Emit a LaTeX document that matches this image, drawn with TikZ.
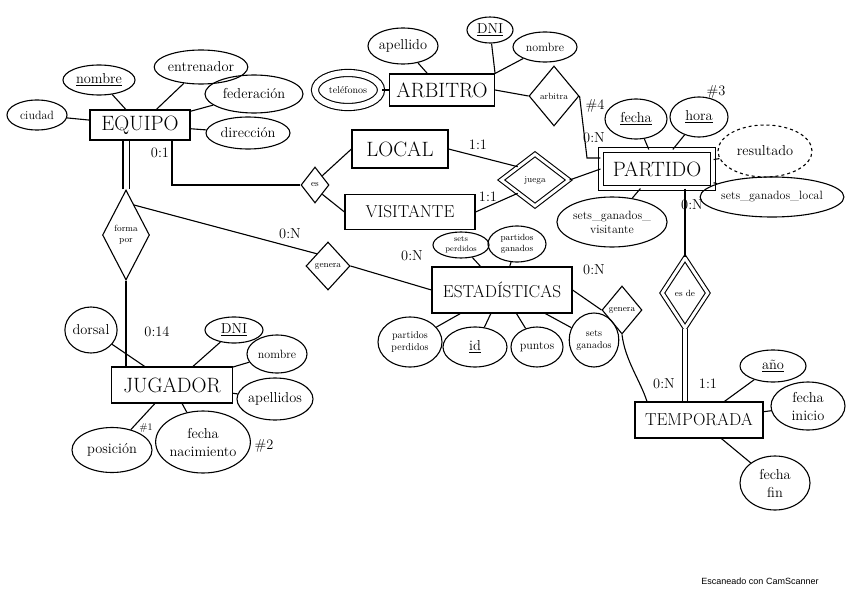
\documentclass[tikz,border=0pt]{standalone}
\usepackage{fontspec}
\newfontfamily\scanfont{Liberation Sans}
\usetikzlibrary{shapes.geometric}
\tikzset{
entity/.style n args = {2}{draw, rectangle, minimum width=#1, minimum height=#2,
              inner sep=1pt, font=\huge},
attr/.style n args = {2}{draw, ellipse, minimum width=#1, minimum height=#2,
              inner sep=0pt, font=\Large, align=center},
rel/.style n args = {2}{draw, diamond, minimum width=#1, minimum height=#2,
              inner sep=0pt, font=\small, align=center},
card/.style = {font=\Large, inner sep=1pt}
}

\begin{document}
\begin{tikzpicture}[x=1pt, y=-1pt, line width=1.1pt]
	\def \dd{4pt} % double line gap
	\useasboundingbox (0,0) rectangle (848,599);

	% Entities
	\node[entity={100pt}{30pt}] (equipo) at (140,125) {EQUIPO};
	\node[entity={105pt}{32pt}] (arbitro) at (442,90) {ARBITRO};
	\node[entity={96pt}{38pt}] (local) at (400,149) {LOCAL};
	\node[entity={130pt}{35pt}, font=\LARGE] (visit) at (410,212) {VISITANTE};
	\node[entity={112pt}{38pt}, double, double distance=\dd] (partido) at (657,169) {PARTIDO};
	\node[entity={140pt}{46pt}, font=\LARGE] (estad) at (502,290) {ESTADÍSTICAS};
	\node[entity={121pt}{36pt}] (jugador) at (172,385) {JUGADOR};
	\node[entity={128pt}{36pt}, font=\LARGE] (temporada) at (699,420) {TEMPORADA};

	% Relationships
	\node[rel={47pt}{90pt}] (forma) at (126,235) {forma\\por};
	\node[rel={28pt}{36pt}] (es) at (315,185) {es};
	\node[rel={44pt}{48pt}] (genL) at (328,266) {genera};
	\node[rel={50pt}{60pt}] (arbitra) at (554,96) {arbitra};
	\node[rel={68pt}{52pt}, double, double distance=3pt] (juega) at (535,180) {juega};
	\node[rel={40pt}{48pt}] (genR) at (622,310) {genera};
	\node[rel={46pt}{70pt}, double, double distance=3pt] (esde) at (685,293) {es de};

	% EQUIPO attributes
	\node[attr={72pt}{30pt}] (eqnom) at (99,80) {\underline{nombre}};
	\node[attr={60pt}{30pt}, font=\large] (eqciu) at (37,115) {ciudad};
	\node[attr={92pt}{34pt}] (eqent) at (201,67) {entrenador};
	\node[attr={98pt}{38pt}] (eqfed) at (254,94) {federación};
	\node[attr={84pt}{32pt}] (eqdir) at (248,133) {dirección};
	\draw (equipo) -- (eqnom);
	\draw (equipo) -- (eqciu);
	\draw (equipo) -- (eqent);
	\draw (equipo) -- (eqfed);
	\draw (equipo) -- (eqdir);

	% ARBITRO attributes
	\node[attr={70pt}{36pt}] (arape) at (403,46) {apellido};
	\node[attr={46pt}{26pt}] (ardni) at (490,30) {\underline{DNI}};
	\node[attr={64pt}{30pt}, font=\large] (arnom) at (545,47) {nombre};
	\node[attr={66pt}{34pt}, double, double distance=6pt, font=\normalsize] (artel) at (348,90) {teléfonos};
	\draw (arbitro) -- (arape);
	\draw (arbitro.north east) -- (ardni);
	\draw (arbitro.north east) -- (arnom);
	\draw (arbitro) -- (artel);

	% PARTIDO attributes
	\node[attr={62pt}{40pt}] (pafec) at (636,119) {\underline{fecha}};
	\node[attr={58pt}{40pt}] (pahor) at (699,117) {\underline{hora}};
	\node[attr={94pt}{52pt}, dashed] (pares) at (765,151) {resultado};
	\node[attr={130pt}{40pt}, font=\large] (paloc) at (772,197) {sets\_ganados\_local};
	\node[attr={108pt}{50pt}, font=\large] (pavis) at (612,222) {sets\_ganados\_\\visitante};
	\draw (partido) -- (pafec);
	\draw (partido) -- (pahor);
	\draw (partido) -- (pares);
	\draw (partido) -- (paloc);
	\draw (partido) -- (pavis);

	% ESTADISTICAS attributes
	\node[attr={56pt}{26pt}, font=\footnotesize] (essp) at (461,245) {sets\\perdidos};
	\node[attr={58pt}{36pt}, font=\small] (espg) at (517,244) {partidos\\ganados};
	\node[attr={64pt}{50pt}, font=\normalsize] (espp) at (410,342) {partidos\\perdidos};
	\node[attr={64pt}{40pt}] (esid) at (475,347) {\underline{id}};
	\node[attr={52pt}{40pt}, font=\large] (espu) at (537,347) {puntos};
	\node[attr={46pt}{54pt}, font=\normalsize] (essg) at (594,340) {sets\\ganados};
	\draw (estad) -- (essp);
	\draw (estad) -- (espg);
	\draw (estad) -- (espp);
	\draw (estad) -- (esid);
	\draw (estad) -- (espu);
	\draw (estad) -- (essg);

	% JUGADOR attributes
	\node[attr={52pt}{46pt}] (judor) at (91,330) {dorsal};
	\node[attr={58pt}{26pt}] (judni) at (234,330) {\underline{DNI}};
	\node[attr={60pt}{38pt}, font=\large] (junom) at (277,354) {nombre};
	\node[attr={75pt}{42pt}] (juape) at (275,399) {apellidos};
	\node[attr={90pt}{62pt}] (jufec) at (203,442) {fecha\\nacimiento};
	\node[attr={80pt}{45pt}] (jupos) at (112,450) {posición};
	\draw (jugador) -- (judor);
	\draw (jugador) -- (judni);
	\draw (jugador) -- (junom);
	\draw (jugador) -- (juape);
	\draw (jugador) -- (jufec);
	\draw (jugador) -- (jupos);

	% TEMPORADA attributes
	\node[attr={66pt}{32pt}] (teano) at (773,366) {\underline{año}};
	\node[attr={74pt}{48pt}] (teini) at (808,406) {fecha\\inicio};
	\node[attr={70pt}{54pt}] (tefin) at (775,483) {fecha\\fin};
	\draw (temporada) -- (teano);
	\draw (temporada) -- (teini);
	\draw (temporada) -- (tefin);

	% Relationship lines
	\coordinate (eqgen) at (134,205);
	\coordinate (arbpa) at (587,158);
	\draw[double, double distance=5pt] (forma.north) -- (forma.north |- equipo.south);
	\draw (forma.south) -- (forma.south |- jugador.north);
	\draw ([xshift=32pt]equipo.south) |- (es.west);
	\draw (eqgen) -- (genL.north west);
	\draw (es.north east) -- (local.west);
	\draw (es.south east) -- (visit.west);
	\draw (local.east) -- (juega.north west);
	\draw (visit.east) -- (juega.south west);
	\draw (juega.east) -- (partido.west);
	\draw (arbitro.east) -- (arbitra.west);
	\draw (arbitra.east) -- (arbpa) -- (arbpa -| partido.west);
	\draw (esde.north |- partido.south) -- (esde.north);
	\draw[double, double distance=\dd] (esde.south) -- (esde.south |- temporada.north);
	\draw (genL.east) -- (estad.west);
	\draw (estad.east) -- (genR.west);
	\draw (genR.south) .. controls (625,360) and (640,380) .. ([xshift=-52pt]temporada.north);

	% Cardinalities
	\node[card] (c01) at (160,153) {0:1};
	\node[card] (c11a) at (478,145) {1:1};
	\node[card] (c11b) at (488,197) {1:1};
	\node[card] (c0Na) at (594,138) {0:N};
	\node[card] (c0Nb) at (692,205) {0:N};
	\node[card] (c0Nc) at (290,234) {0:N};
	\node[card] (c0Nd) at (412,256) {0:N};
	\node[card] (c0Ne) at (594,270) {0:N};
	\node[card] (c014) at (157,332) {0:14};
	\node[card] (c0Nf) at (664,384) {0:N};
	\node[card] (c11c) at (708,384) {1:1};
	\node[card] (n4) at (595,106) {\#4};
	\node[card] (n3) at (716,92) {\#3};
	\node[card] (n2) at (264,446) {\#2};
	\node[card, font=\normalsize] (n1) at (146,428) {\#1};

	% Scanner footer
	\node[font=\scanfont\small] (scan) at (760,581) {Escaneado con CamScanner};
\end{tikzpicture}
\end{document}
